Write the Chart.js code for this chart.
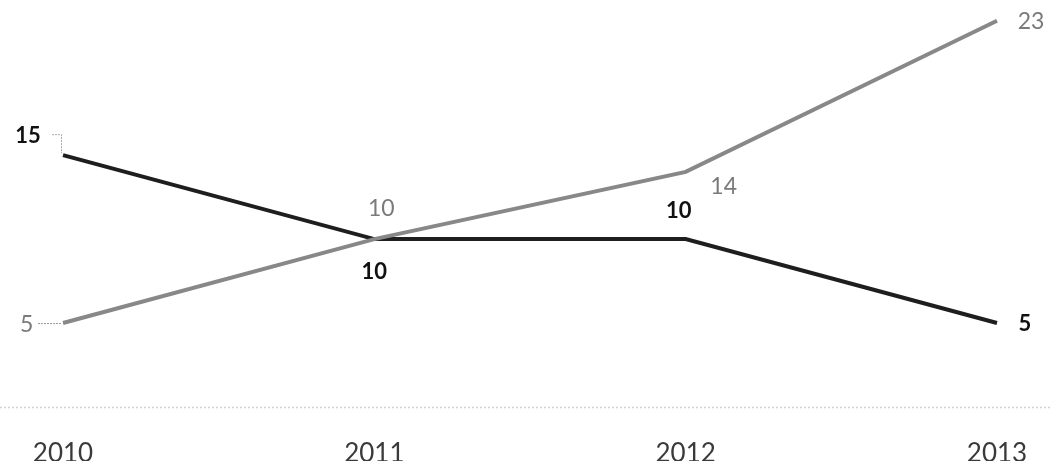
<!DOCTYPE html>
<html>
<head>
<meta charset="utf-8">
<script src="https://cdn.jsdelivr.net/npm/chart.js@4"></script>
<style>
    html, body { margin: 0; padding: 0; background: #fff; }
    #wrap { width: 1051px; height: 461px; position: relative; }
</style>
</head>
<body>
<div id="wrap"><canvas id="chart"></canvas></div>
<script>
const years = ['2010', '2011', '2012', '2013'];
const greySeries = [5, 10, 14, 23];
const darkSeries = [15, 10, 10, 5];

const GREY = '#888888';
const DARK = '#1e1e1e';
const FONT = 'Lato, "Open Sans", sans-serif';

// where each point label sits relative to its point (dx, dy), plus alignment
const greyPlacement = [
    { dx: -43, dy: 2, align: 'left', leader: 'dash' },
    { dx: 7, dy: -31, align: 'center' },
    { dx: 38, dy: 15, align: 'center' },
    { dx: 34, dy: 1, align: 'center' }
];
const darkPlacement = [
    { dx: -35, dy: -19, align: 'center', leader: 'bracket' },
    { dx: 0, dy: 33, align: 'center' },
    { dx: -7, dy: -28, align: 'center' },
    { dx: 28, dy: 1, align: 'center' }
];

// dotted baseline across the whole width at zero
const baselinePlugin = {
    id: 'baseline',
    beforeDatasetsDraw(chart) {
        const ctx = chart.ctx;
        const y = Math.round(chart.scales.y.getPixelForValue(0)) + 0.5;
        ctx.save();
        ctx.strokeStyle = '#d2d2d2';
        ctx.lineWidth = 1.5;
        ctx.setLineDash([2, 2]);
        ctx.beginPath();
        ctx.moveTo(0, y);
        ctx.lineTo(chart.width, y);
        ctx.stroke();
        ctx.restore();
    }
};

// value labels next to points
const pointLabelPlugin = {
    id: 'pointLabels',
    afterDatasetsDraw(chart) {
        const ctx = chart.ctx;
        ctx.save();
        ctx.textBaseline = 'middle';
        chart.data.datasets.forEach((ds, i) => {
            const meta = chart.getDatasetMeta(i);
            ctx.font = ds.labelFont;
            meta.data.forEach((pt, j) => {
                const p = ds.placement[j];
                const x = pt.x + p.dx;
                const y = pt.y + p.dy;
                ctx.fillStyle = ds.labelColor;
                ctx.textAlign = p.align;
                ctx.fillText(String(ds.data[j]), x, y);

                if (p.leader === 'dash') {
                    ctx.strokeStyle = '#999';
                    ctx.lineWidth = 1;
                    ctx.setLineDash([2, 1]);
                    ctx.beginPath();
                    ctx.moveTo(x + 18, pt.y + 0.5);
                    ctx.lineTo(pt.x - 2, pt.y + 0.5);
                    ctx.stroke();
                    ctx.setLineDash([]);
                }
                if (p.leader === 'bracket') {
                    ctx.strokeStyle = '#aaa';
                    ctx.lineWidth = 1;
                    ctx.setLineDash([2, 1]);
                    ctx.beginPath();
                    ctx.moveTo(x + 24, y - 1.5);
                    ctx.lineTo(pt.x - 1.5, y - 1.5);
                    ctx.lineTo(pt.x - 1.5, pt.y - 2);
                    ctx.stroke();
                    ctx.setLineDash([]);
                }
            });
        });
        ctx.restore();
    }
};

new Chart(document.getElementById('chart'), {
    type: 'line',
    data: {
        labels: years,
        datasets: [
            {
                data: greySeries,
                borderColor: GREY,
                borderWidth: 4,
                pointRadius: 0,
                tension: 0,
                labelColor: '#7a7a7a',
                labelFont: '23px ' + FONT,
                placement: greyPlacement
            },
            {
                data: darkSeries,
                borderColor: DARK,
                borderWidth: 4,
                pointRadius: 0,
                tension: 0,
                labelColor: '#111',
                labelFont: 'bold 22px ' + FONT,
                placement: darkPlacement
            }
        ]
    },
    options: {
        responsive: true,
        maintainAspectRatio: false,
        animation: false,
        layout: { padding: { left: 63, right: 54, top: 4, bottom: 0 } },
        plugins: {
            legend: { display: false },
            tooltip: { enabled: false }
        },
        scales: {
            x: {
                offset: false,
                grid: { display: false },
                border: { display: false },
                ticks: {
                    color: '#3a3a3a',
                    padding: 23,
                    font: { family: FONT, size: 26 },
                    maxRotation: 0
                },
                afterFit(scale) { scale.height = 54; }
            },
            y: {
                display: false,
                min: 0,
                max: 24
            }
        }
    },
    plugins: [baselinePlugin, pointLabelPlugin]
});
</script>
</body>
</html>
